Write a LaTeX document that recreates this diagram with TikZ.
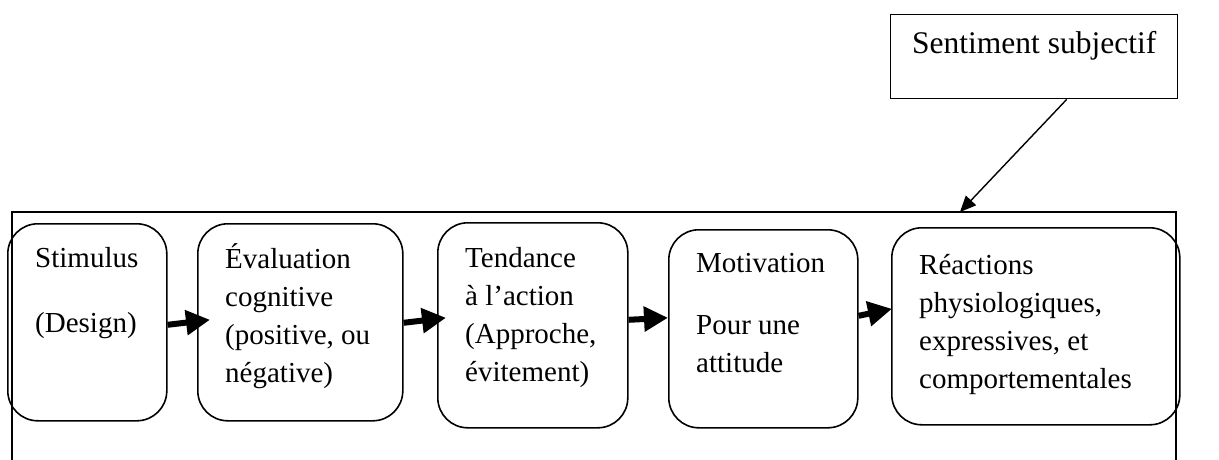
\documentclass[tikz,border=0pt]{standalone}
\usepackage{fontspec}
\setmainfont{Liberation Serif}
\usetikzlibrary{arrows.meta}

\begin{document}
\begin{tikzpicture}
    [x=1pt,y=-1pt,
    stage/.style={rectangle,rounded corners=30pt,draw=black,line width=1.6pt,inner sep=0pt,anchor=north west},
    box/.style={rectangle,draw=black,line width=1.4pt,inner sep=0pt,anchor=north west},
    txt/.style={anchor=base west,align=left,inner sep=0pt,font=\fontsize{29}{38}\selectfont},
    bigarrow/.style={line width=6pt,-{Triangle[length=24pt,width=24pt]}},
    thinarrow/.style={line width=1.4pt,-{Triangle[length=16pt,width=14pt]}}]
\useasboundingbox (0,0) rectangle (1219,460);
% the frame runs out of the bottom of the picture
\draw[line width=1.8pt] (12,460) |- (1176,212) -- (1176,460);
\coordinate (frametop) at (960,212);
\node[box,minimum width=287pt,minimum height=84pt] (sent) at (890,14) {};
\node[txt,font=\fontsize{31.5}{38}\selectfont] (senttxt) at (912,54) {Sentiment subjectif};
% the five stages
\node[stage,minimum width=159pt,minimum height=197pt] (stim) at (7,223) {};
\node[stage,minimum width=205pt,minimum height=197pt] (eval) at (197,223) {};
\node[stage,minimum width=190pt,minimum height=205pt] (tend) at (437,222) {};
\node[stage,minimum width=189pt,minimum height=198pt] (motiv) at (668,229) {};
\node[stage,minimum width=288pt,minimum height=197pt] (react) at (891,227) {};
% text sits on the baseline of its last line
\node[txt] (stimtxt) at (35,332) {Stimulus\\[27pt](Design)};
\node[txt] (evaltxt) at (225,382) {Évaluation\\cognitive\\(positive, ou\\négative)};
\node[txt] (tendtxt) at (465,381) {Tendance\\à l’action\\(Approche,\\évitement)};
\node[txt] (motivtxt) at (696,372) {Motivation\\[24pt]Pour une\\attitude};
\node[txt] (reacttxt) at (919,388) {Réactions\\physiologiques,\\expressives, et\\comportementales};
% arrows
\draw[bigarrow] ([yshift=-2.5pt]stim.east) -- ([xshift=13pt,yshift=2.5pt]eval.west);
\draw[bigarrow] ([yshift=-0.5pt]eval.east) -- ([xshift=9pt,yshift=7.5pt]tend.west);
\draw[bigarrow] ([yshift=5.5pt]tend.east) -- ([yshift=11pt]motiv.west);
\draw[bigarrow] ([yshift=13pt]motiv.east) -- ([xshift=1pt,yshift=17.5pt]react.west);
\draw[thinarrow] ([xshift=32.5pt]sent.south) -- (frametop);
\end{tikzpicture}
\end{document}
